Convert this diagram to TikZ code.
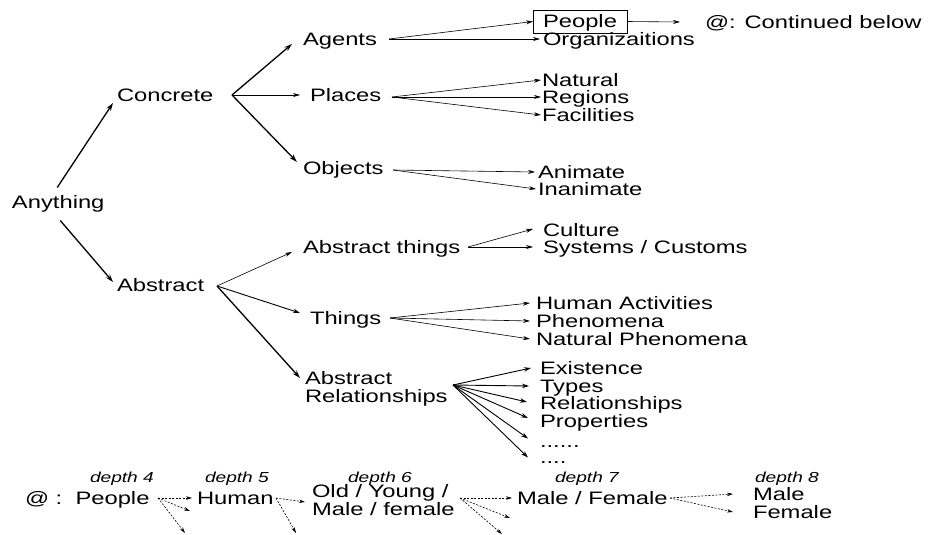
\documentclass[tikz,border=0pt]{standalone}
\usepackage{fontspec}
\setmainfont{Liberation Sans}[FakeStretch=1.32]
\usetikzlibrary{arrows.meta}
\begin{document}
\begin{tikzpicture}[x=1pt,y=-1pt,
  every node/.style={inner sep=0pt, outer sep=0pt},
  txt/.style={font=\fontsize{18}{18}\selectfont, text height=13pt, text depth=0pt, anchor=west},
  dots/.style={font=\fontsize{18}{18}\selectfont, text height=3pt, text depth=0pt, anchor=west},
  mtxt/.style={font=\fontsize{18}{18}\selectfont, align=left, anchor=west},
  dlbl/.style={font=\fontsize{14.5}{14.5}\selectfont\itshape, text height=10pt, text depth=0pt, anchor=west},
  boxed/.style={draw, line width=0.7pt, inner xsep=10pt, inner ysep=5pt, anchor=center},
  tarrow/.style={-{Stealth[length=7pt,width=4pt]}, line width=0.6pt},
  marrow/.style={-{Stealth[length=7pt,width=4.5pt]}, line width=0.9pt},
  barrow/.style={-{Stealth[length=8pt,width=5pt]}, line width=1.3pt},
  darrow/.style={-{Stealth[length=6pt,width=3.5pt]}, line width=0.6pt, dash pattern=on 2pt off 1.5pt}]
\useasboundingbox (0,0) rectangle (929,535);

% ---- nodes ----
\node[txt] (anything) at (12,202) {Anything};
\node[txt] (concrete) at (117,95) {Concrete};
\node[txt] (abstract) at (117,285) {Abstract};
\node[txt] (agents) at (303,39) {Agents};
\node[txt] (places) at (310,95) {Places};
\node[txt] (objects) at (303,168) {Objects};
\node[txt] (absthings) at (303,247) {Abstract things};
\node[txt] (things) at (310,318) {Things};
\node[mtxt] (absrel) at (305,389) {Abstract\\Relationships};

\node[txt,boxed] (people) at (580,21.5) {People};
\node[txt] (cont) at (705,22) {@: Continued below};
\node[txt] (org) at (543,39) {Organizaitions};
\node[txt] (natural) at (542,80) {Natural};
\node[txt] (regions) at (542,97) {Regions};
\node[txt] (facilities) at (542,115) {Facilities};
\node[txt] (animate) at (538,172) {Animate};
\node[txt] (inanimate) at (538,189) {Inanimate};
\node[txt] (culture) at (543,230) {Culture};
\node[txt] (systems) at (543,247) {Systems / Customs};
\node[txt] (humanact) at (536,303) {Human Activities};
\node[txt] (phen) at (536,321) {Phenomena};
\node[txt] (natphen) at (536,339) {Natural Phenomena};
\node[txt] (existence) at (540,368) {Existence};
\node[txt] (types) at (540,386) {Types};
\node[txt] (relships) at (540,403) {Relationships};
\node[txt] (properties) at (540,421) {Properties};
\node[dots] (dotsa) at (540,445.5) {......};
\node[dots] (dotsb) at (540,461.5) {....};

% bottom row
\node[dlbl] (d4) at (90,477) {depth 4};
\node[dlbl] (d5) at (205,477) {depth 5};
\node[dlbl] (d6) at (348,477) {depth 6};
\node[dlbl] (d7) at (555,477) {depth 7};
\node[dlbl] (d8) at (755,477) {depth 8};
\node[txt] (peopleb) at (25,498) {@ :\ \ People};
\node[txt] (human) at (197,498) {Human};
\node[mtxt] (oldyoung) at (312,500) {Old / Young /\\Male / female};
\node[txt] (malefemale) at (517,498) {Male / Female};
\node[txt] (male) at (753,494) {Male};
\node[txt] (female) at (753,512) {Female};

% ---- fan points ----
\coordinate (agF) at (389,39);
\coordinate (plF) at (392,97);
\coordinate (obF) at (393,170);
\coordinate (atF) at (468,247);
\coordinate (thF) at (390,318);
\coordinate (arF) at (453,385);
\coordinate (coF) at (232,95);
\coordinate (abF) at (217,286);
\coordinate (pbF) at (158,498);
\coordinate (huF) at (276,498);
\coordinate (oyF) at (460,498);
\coordinate (mfF) at (670,498);
\coordinate (pbE1) at (190,511);
\coordinate (pbE2) at (185,533);
\coordinate (huE1) at (296,533);
\coordinate (oyE1) at (510,518);
\coordinate (oyE2) at (502,534);

% ---- connectors ----
\draw[barrow] ([xshift=-1pt,yshift=8pt]anything.north) -- ([xshift=-4pt,yshift=-8pt]concrete.west);
\draw[barrow] ([xshift=2pt,yshift=-12pt]anything.south) -- ([xshift=-4pt,yshift=3pt]abstract.west);

\draw[barrow] (coF) -- ([xshift=-11pt,yshift=-5pt]agents.west);
\draw[tarrow] (coF) -- ([xshift=-10pt]places.west);
\draw[barrow] (coF) -- ([xshift=-6pt,yshift=6pt]objects.west);

\draw[tarrow] (abF) -- ([xshift=-11pt,yshift=-5pt]absthings.west);
\draw[marrow] (abF) -- ([xshift=-10pt,yshift=5pt]things.west);
\draw[barrow] (abF) -- ([xshift=-5pt,yshift=11pt]absrel.west);

\draw[tarrow] (agF) -- (people.west);
\draw[tarrow] (agF) -- ([xshift=-3pt]org.west);
\draw[tarrow] (people.east) -- ([xshift=-25pt]cont.west);

\draw[tarrow] (plF) -- ([xshift=-1pt]natural.west);
\draw[tarrow] (plF) -- ([xshift=-1pt]regions.west);
\draw[tarrow] (plF) -- ([xshift=-1pt]facilities.west);

\draw[tarrow] (obF) -- ([xshift=-3pt]animate.west);
\draw[tarrow] (obF) -- ([xshift=-2pt]inanimate.west);

\draw[tarrow] (atF) -- ([xshift=-10pt,yshift=1pt]culture.west);
\draw[tarrow] (atF) -- ([xshift=-10pt]systems.west);

\draw[tarrow] (thF) -- ([xshift=-6pt]humanact.west);
\draw[tarrow] (thF) -- ([xshift=-6pt]phen.west);
\draw[tarrow] (thF) -- ([xshift=-6pt]natphen.west);

\draw[marrow] (arF) -- ([xshift=-9pt]existence.west);
\draw[marrow] (arF) -- ([xshift=-11pt]types.west);
\draw[marrow] (arF) -- ([xshift=-13pt,yshift=1pt]relships.west);
\draw[marrow] (arF) -- ([xshift=-12pt,yshift=3pt]properties.west);
\draw[marrow] (arF) -- ([xshift=-12pt,yshift=7pt]dotsa.west);
\draw[marrow] (arF) -- ([xshift=-12pt,yshift=4pt]dotsb.west);

\draw[darrow] (pbF) -- ([xshift=-5pt]human.west);
\draw[darrow] (pbF) -- (pbE1);
\draw[darrow] (pbF) -- (pbE2);
\draw[darrow] (huF) -- ([xshift=-7pt,yshift=-2pt]oldyoung.west);
\draw[darrow] (huF) -- (huE1);
\draw[darrow] (oyF) -- ([xshift=-5pt]malefemale.west);
\draw[darrow] (oyF) -- (oyE1);
\draw[darrow] (oyF) -- (oyE2);
\draw[darrow] (mfF) -- ([xshift=-20pt]male.west);
\draw[darrow] (mfF) -- ([xshift=-20pt]female.west);
\end{tikzpicture}
\end{document}
